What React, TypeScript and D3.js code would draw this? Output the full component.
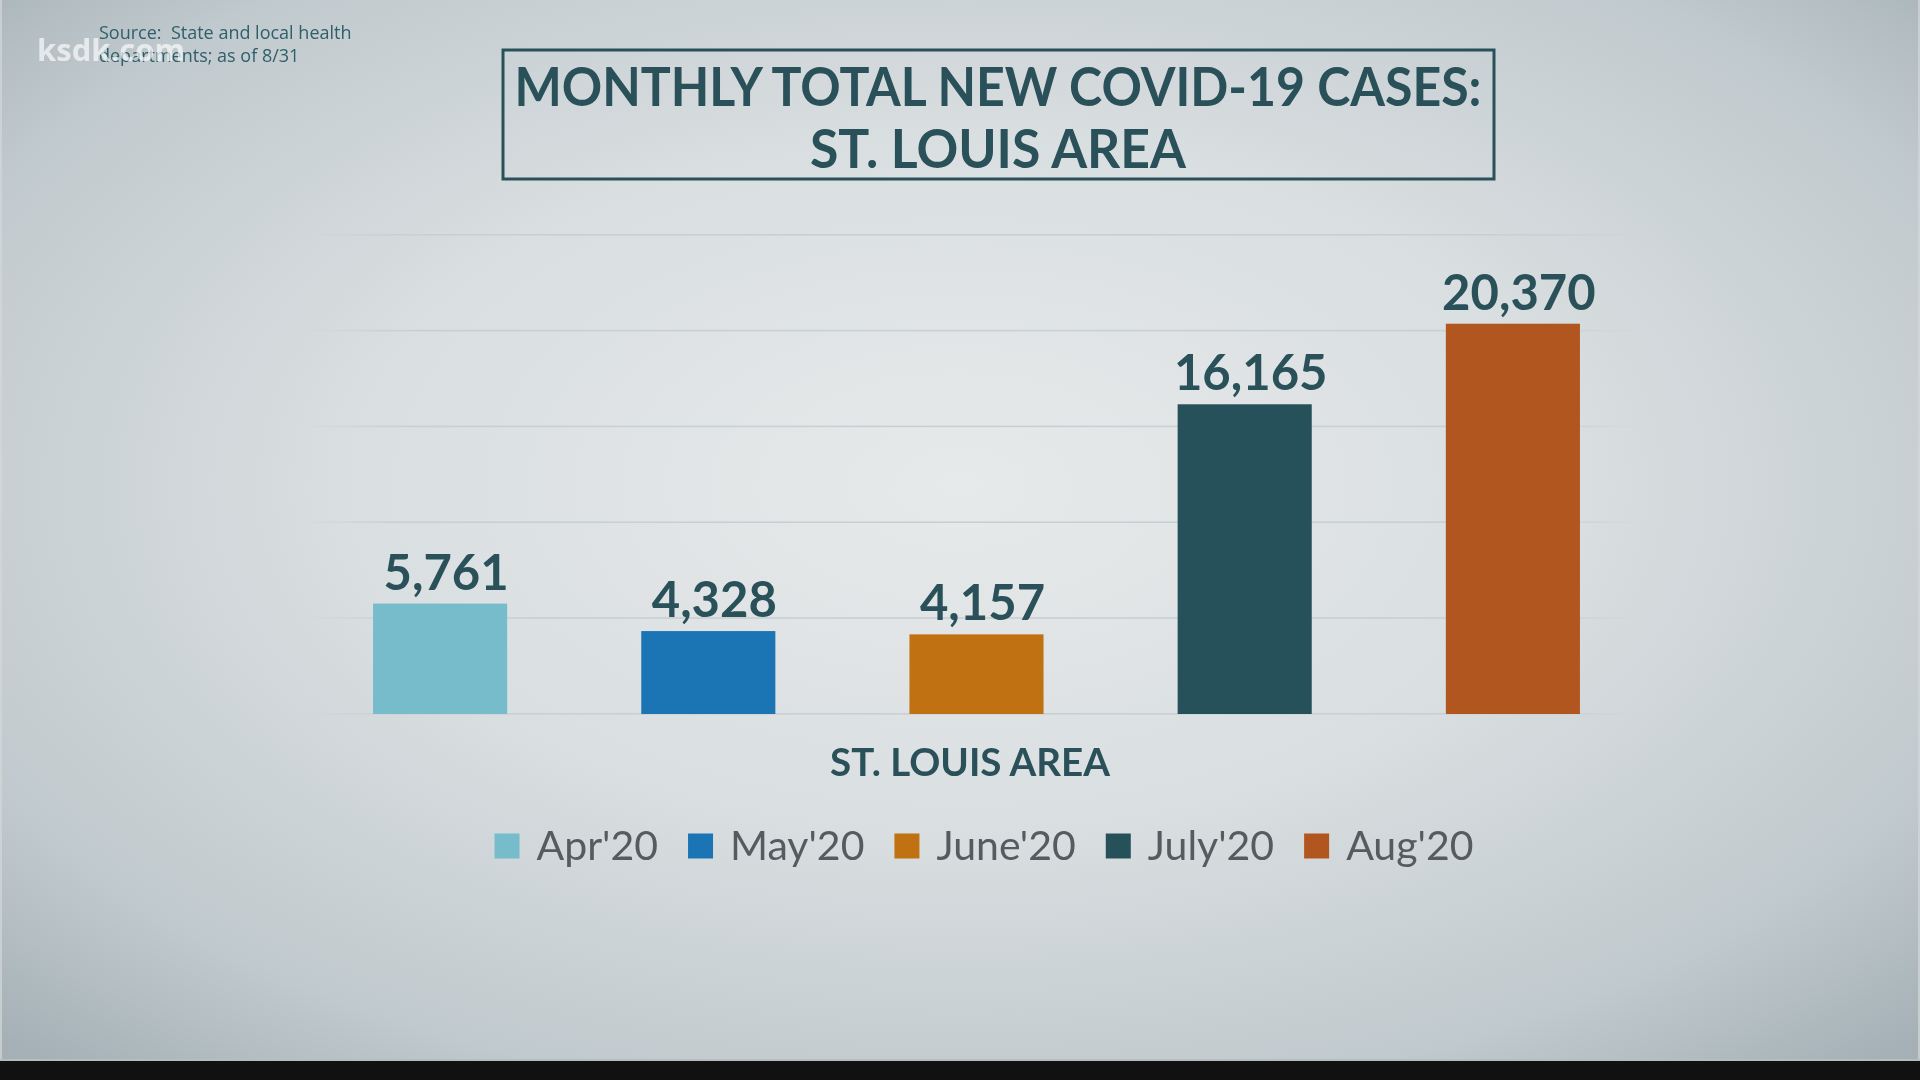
import React, { useEffect, useRef } from "react";
import * as d3 from "d3";

const months = ["Apr'20", "May'20", "June'20", "July'20", "Aug'20"];
const cases = [5761, 4328, 4157, 16165, 20370];
const colors = ["#76bccb", "#1b75b5", "#c07213", "#27515a", "#b2561f"];
const gridTicks = [0, 5000, 10000, 15000, 20000, 25000];
const titleLines = ["MONTHLY TOTAL NEW COVID-19 CASES:", "ST. LOUIS AREA"];
const sourceLines = ["Source:  State and local health", "departments; as of 8/31"];
const axisLabel = "ST. LOUIS AREA";

const W = 1920;
const H = 1080;
const TEAL = "#2a5159";

export default function App() {
  const legendRef = useRef<SVGGElement>(null);

  const x = d3.scaleBand<string>().domain(months).range([306, 1647]).paddingInner(0.5).paddingOuter(0.25);
  const y = d3.scaleLinear().domain([0, 25000]).range([714, 235]);
  const fmt = d3.format(",");

  useEffect(() => {
    const g = d3.select(legendRef.current);
    g.selectAll("*").remove();
    const sq = 25;
    const gapText = 17;
    const gapItem = 30;
    const items = g.selectAll("g.item").data(months).enter().append("g").attr("class", "item");
    items
      .append("rect")
      .attr("width", sq)
      .attr("height", sq)
      .attr("y", -sq / 2)
      .attr("fill", (_d, i) => colors[i]);
    const texts = items
      .append("text")
      .attr("x", sq + gapText)
      .attr("dy", "0.35em")
      .attr("font-family", "Lato, 'Open Sans', sans-serif")
      .attr("font-size", 41)
      .attr("fill", "#555b5e")
      .text((d) => d);
    const widths: number[] = [];
    texts.each(function () {
      widths.push((this as SVGTextElement).getComputedTextLength());
    });
    const itemW = widths.map((w) => sq + gapText + w);
    const total = d3.sum(itemW) + gapItem * (months.length - 1);
    let cx = 984 - total / 2;
    items.attr("transform", (_d, i) => {
      const t = `translate(${cx},846)`;
      cx += itemW[i] + gapItem;
      return t;
    });
  }, []);

  return (
    <svg
      width={W}
      height={H}
      style={{ position: "fixed", left: 0, top: 0, display: "block" }}
      xmlns="http://www.w3.org/2000/svg"
    >
      <defs>
        <radialGradient id="bg" cx="0.5" cy="0.45" r="0.72">
          <stop offset="0" stopColor="#e7eaeb" />
          <stop offset="0.45" stopColor="#d9dee0" />
          <stop offset="0.8" stopColor="#c0c9cd" />
          <stop offset="1" stopColor="#a4b0b6" />
        </radialGradient>
        <linearGradient id="gridfade" x1="0" x2="1" y1="0" y2="0">
          <stop offset="0" stopColor="#c9cfd2" stopOpacity="0" />
          <stop offset="0.07" stopColor="#c9cfd2" stopOpacity="1" />
          <stop offset="0.93" stopColor="#c9cfd2" stopOpacity="1" />
          <stop offset="1" stopColor="#c9cfd2" stopOpacity="0" />
        </linearGradient>
      </defs>
      <rect x={0} y={0} width={W} height={H} fill="url(#bg)" />
      <rect x={0} y={0} width={2} height={1061} fill="#d4d8d9" opacity={0.7} />
      <rect x={W - 2} y={0} width={2} height={1061} fill="#d4d8d9" opacity={0.7} />
      <rect x={0} y={1059} width={W} height={2} fill="#b7bcbe" />
      <rect x={0} y={1061} width={W} height={H - 1061} fill="#111111" />

      {/* gridlines */}
      {gridTicks.map((t) => (
        <rect key={t} x={300} y={y(t) - 1} width={1345} height={1.6} fill="url(#gridfade)" />
      ))}

      {/* bars */}
      {months.map((m, i) => (
        <rect key={m} x={x(m)} y={y(cases[i])} width={x.bandwidth()} height={y(0) - y(cases[i])} fill={colors[i]} />
      ))}

      {/* value labels */}
      {months.map((m, i) => (
        <text
          key={"l" + m}
          x={(x(m) as number) + x.bandwidth() / 2 + 6}
          y={y(cases[i]) - 14}
          textAnchor="middle"
          fontFamily="Lato, 'Open Sans', sans-serif"
          fontWeight={700}
          fontSize={49}
          fill={TEAL}
        >
          {fmt(cases[i])}
        </text>
      ))}

      {/* axis label */}
      <text
        x={970}
        y={776}
        textAnchor="middle"
        fontFamily="Lato, 'Open Sans', sans-serif"
        fontWeight={700}
        fontSize={38.5}
        fill={TEAL}
      >
        {axisLabel}
      </text>

      {/* legend */}
      <g ref={legendRef} />

      {/* title box */}
      <rect x={503} y={50} width={991} height={129} fill="none" stroke={TEAL} strokeWidth={3} />
      <text
        x={998}
        y={106}
        textAnchor="middle"
        fontFamily="Lato, 'Open Sans', sans-serif"
        fontWeight={700}
        fontSize={54}
        fill={TEAL}
        textLength={967}
        lengthAdjust="spacingAndGlyphs"
      >
        {titleLines[0]}
      </text>
      <text
        x={998}
        y={168}
        textAnchor="middle"
        fontFamily="Lato, 'Open Sans', sans-serif"
        fontWeight={700}
        fontSize={54}
        fill={TEAL}
        textLength={376}
        lengthAdjust="spacingAndGlyphs"
      >
        {titleLines[1]}
      </text>

      {/* source */}
      {sourceLines.map((s, i) => (
        <text
          key={s}
          x={99}
          y={39 + i * 23}
          fontFamily="'Open Sans', Lato, sans-serif"
          fontSize={18}
          fill="#2f5f6a"
          style={{ whiteSpace: "pre" }}
        >
          {s}
        </text>
      ))}

      {/* watermark */}
      <text
        x={37}
        y={61}
        fontFamily="'Open Sans', Lato, sans-serif"
        fontWeight={700}
        fontSize={31}
        fill="#ffffff"
        fillOpacity={0.65}
      >
        ksdk.com
      </text>
    </svg>
  );
}
